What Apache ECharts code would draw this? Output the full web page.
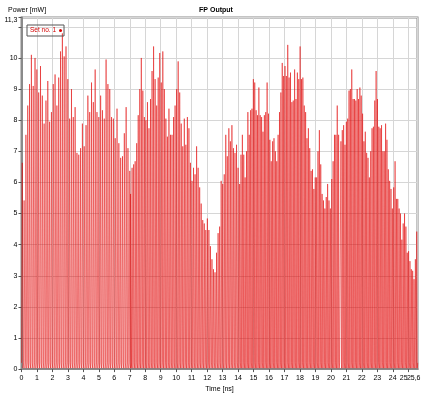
<!DOCTYPE html>
<html lang="en">
<head>
    <meta charset="utf-8">
    <title>FP Output</title>
    <script src="https://cdn.jsdelivr.net/npm/echarts@6/dist/echarts.min.js"></script>
    <style>
        html, body { margin: 0; padding: 0; background: #fff; }
        #chart { width: 432px; height: 398px; }
    </style>
</head>
<body>
<div id="chart"></div>
<script type="text/javascript">
    // pulse peaks, in four stretches of time
    var segStart = [0.05, 7.05, 14.1, 20.65];
    var segEnd = [7.0, 14.0, 20.5, 25.55];

    var peaksA = [6.63, 5.42, 7.53, 8.47, 9.16, 10.1, 9.1, 10.0, 9.63, 8.89, 9.74, 8.79, 7.89, 8.63, 9.26,
        7.95, 8.26, 9.16, 9.47, 8.47, 9.37, 10.21, 10.79, 10.05, 10.37, 9.32, 8.05, 9.0, 8.1, 8.42,
        6.95, 6.89, 7.1, 7.89, 7.16, 7.84, 8.79, 8.26, 9.21, 8.58, 9.63, 8.26, 8.1, 8.79, 8.32,
        8.05, 9.95, 9.16, 9.0, 8.1, 8.05, 7.42, 8.37, 7.26, 6.79, 6.84, 7.58, 8.42, 7.1, 6.37];

    var peaksB = [5.63, 6.47, 6.58, 6.68, 7.26, 8.16, 9.0, 10.0, 8.95, 8.1, 8.0, 8.58, 7.74, 8.68, 9.58,
        10.37, 9.32, 8.47, 9.37, 10.16, 9.21, 10.21, 9.0, 8.05, 7.47, 8.37, 7.53, 7.53, 8.1, 8.47,
        9.0, 9.89, 8.89, 7.89, 7.16, 8.05, 7.21, 8.1, 7.74, 6.63, 6.05, 6.47, 6.26, 7.16, 6.47,
        5.84, 5.32, 4.79, 4.68, 4.47, 4.84, 4.47, 3.95, 3.53, 3.21, 3.11, 3.74, 4.37, 4.58, 6.05,
        5.95, 6.26, 7.53, 6.84, 7.74, 7.32, 7.84, 7.1, 6.95, 7.21, 6.47];

    var peaksC = [5.95, 6.89, 7.53, 6.89, 6.16, 7.0, 8.26, 7.53, 8.32, 8.37, 9.32, 9.21, 8.32, 8.16, 9.05,
        8.16, 8.1, 7.63, 8.16, 8.26, 9.21, 8.21, 7.37, 6.68, 7.32, 7.42, 7.0, 6.68, 7.53, 8.26,
        8.89, 9.84, 9.42, 9.74, 9.42, 10.42, 9.37, 9.53, 8.58, 8.63, 9.63, 8.68, 9.53, 9.32, 10.37,
        9.32, 9.37, 8.47, 8.26, 7.42, 7.74, 7.1, 6.37, 6.42, 5.79, 6.16, 6.16, 7.0, 7.68, 6.58,
        5.63, 5.42, 5.16, 5.53, 5.95, 5.42, 5.16, 6.11, 6.68, 7.53, 7.53, 8.47, 7.53];

    var peaksD = [7.32, 7.68, 7.84, 7.21, 7.95, 8.05, 8.95, 9.0, 9.63, 8.68, 8.68, 8.63, 9.0, 8.68, 9.05,
        8.79, 8.21, 7.32, 7.63, 6.95, 6.79, 6.16, 7.0, 7.74, 7.79, 8.63, 9.58, 8.68, 7.79, 7.74,
        7.84, 7.0, 7.0, 7.89, 7.37, 6.42, 6.05, 5.79, 5.16, 5.84, 6.68, 5.47, 5.47, 5.16, 5.0,
        4.16, 4.68, 5.0, 4.58, 3.74, 3.79, 3.47, 3.21, 3.16, 2.89, 3.53, 4.42];

    // level the output falls back to between pulses
    var troughLow = 0.03;
    var shelfLevel = 0.2;

    var xTickLabels = ['0', '1', '2', '3', '4', '5', '6', '7', '8', '9', '10', '11', '12', '13',
        '14', '15', '16', '17', '18', '19', '20', '21', '22', '23', '24', '25'];
    var xEndLabel = '25,6';
    var yTopLabel = '11,3';

    var segments = [peaksA, peaksB, peaksC, peaksD];
    var points = [[0, shelfLevel]];
    segments.forEach(function (peaks, s) {
        var step = (segEnd[s] - segStart[s]) / (peaks.length - 1);
        peaks.forEach(function (p, i) {
            var t = segStart[s] + i * step;
            points.push([t, p]);
            points.push([t + step * 0.45, troughLow]);
            points.push([t + step * 0.75, shelfLevel]);
        });
    });

    var myChart = echarts.init(document.getElementById('chart'));
    var font = 'Liberation Sans';

    function isEnd(v, end) {
        return Math.abs(v - end) < 1e-6;
    }

    var option = {
        animation: false,
        backgroundColor: '#fff',
        title: [{
            text: 'FP Output',
            left: 'center',
            top: 7,
            padding: 0,
            textStyle: {fontFamily: font, fontSize: 7, fontWeight: 'bold', color: '#000'}
        }, {
            text: 'Power [mW]',
            left: 8,
            top: 7,
            padding: 0,
            textStyle: {fontFamily: font, fontSize: 7, fontWeight: 'normal', color: '#000'}
        }],
        legend: {
            left: 27,
            top: 25,
            orient: 'vertical',
            align: 'right',
            padding: [2, 2, 2, 3],
            borderColor: '#555',
            borderWidth: 1,
            itemWidth: 3,
            itemHeight: 3,
            itemGap: 0,
            icon: 'circle',
            textStyle: {fontFamily: font, fontSize: 6.5, color: '#d40000', padding: [0, -2, 0, 0]},
            data: ['Set no. 1']
        },
        grid: {
            left: 21.5,
            right: 14.5,
            top: 17.5,
            bottom: 23,
            show: true,
            borderColor: '#8a8a8a',
            borderWidth: 2,
            backgroundColor: '#fff'
        },
        xAxis: [{
            type: 'value',
            min: 0,
            max: 25.6,
            interval: 1,
            name: 'Time [ns]',
            nameLocation: 'middle',
            nameGap: 15,
            nameTextStyle: {fontFamily: font, fontSize: 7, color: '#000'},
            axisLine: {show: true, lineStyle: {color: '#8a8a8a', width: 2}},
            axisTick: {show: true, length: 3, lineStyle: {color: '#555'}},
            axisLabel: {
                fontFamily: font, fontSize: 7, color: '#000', margin: 5,
                showMaxLabel: false,
                formatter: function (v) {
                    if (isEnd(v, 25.6)) return '';
                    if (v === 25) return '{last|' + xTickLabels[25] + '}';
                    return xTickLabels[Math.round(v)];
                },
                rich: {
                    last: {fontFamily: font, fontSize: 7, color: '#000', padding: [0, 9, 0, 0]}
                }
            },
            splitLine: {show: true, lineStyle: {color: '#d6d6d6', width: 1}}
        }, {
            // second copy of the time scale, only to print the end value next to "25"
            type: 'value',
            position: 'bottom',
            min: 0,
            max: 25.6,
            interval: 1,
            axisLine: {show: false},
            axisTick: {show: false},
            splitLine: {show: false},
            axisLabel: {
                fontFamily: font, fontSize: 7, color: '#000', margin: 5,
                showMaxLabel: true,
                align: 'right',
                padding: [0, -3, 0, 0],
                formatter: function (v) {
                    return isEnd(v, 25.6) ? xEndLabel : '';
                }
            }
        }],
        yAxis: {
            type: 'value',
            min: 0,
            max: 11.3,
            interval: 1,
            axisLine: {show: true, lineStyle: {color: '#8a8a8a', width: 2}},
            axisTick: {show: true, length: 3, lineStyle: {color: '#555'}},
            axisLabel: {
                fontFamily: font, fontSize: 7, color: '#000', margin: 4,
                showMaxLabel: true,
                formatter: function (v) {
                    if (isEnd(v, 11.3)) return '{top|' + yTopLabel + '}';
                    if (v === 11) return '';
                    return String(v);
                },
                rich: {
                    top: {fontFamily: font, fontSize: 7, color: '#000', padding: [6, 0, 0, 0]}
                }
            },
            splitLine: {show: true, lineStyle: {color: '#d6d6d6', width: 1}}
        },
        series: [{
            name: 'Set no. 1',
            type: 'line',
            data: points,
            showSymbol: false,
            symbol: 'circle',
            symbolSize: 3,
            itemStyle: {color: '#dc0000'},
            lineStyle: {color: '#e00000', width: 0.5},
            z: 3
        }]
    };

    myChart.setOption(option);
</script>
</body>
</html>
